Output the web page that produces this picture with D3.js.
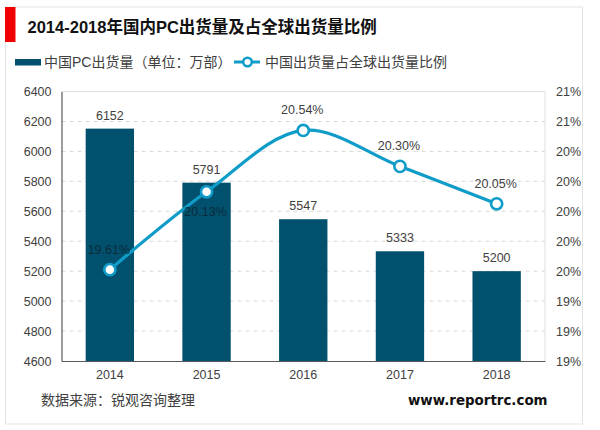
<!DOCTYPE html>
<html>
<head>
<meta charset="utf-8">
<script src="https://cdn.jsdelivr.net/npm/d3@7"></script>
<style>
html, body { margin: 0; padding: 0; background: #fff; }
svg { display: block; }
text { font-family: "Liberation Sans", "Noto Sans CJK SC", sans-serif; fill: #404040; }
</style>
</head>
<body>
<svg id="svg" width="600" height="430"></svg>
<script>
var titleText = "2014-2018年国内PC出货量及占全球出货量比例";
var barName = "中国PC出货量（单位：万部）";
var lineName = "中国出货量占全球出货量比例";
var sourceText = "数据来源：锐观咨询整理";
var siteText = "www.reportrc.com";

var years = ["2014", "2015", "2016", "2017", "2018"];
var shipments = [6152, 5791, 5547, 5333, 5200];
var shares = [19.61, 20.13, 20.54, 20.30, 20.05];
var leftTicks = [4600, 4800, 5000, 5200, 5400, 5600, 5800, 6000, 6200, 6400];
var rightTicks = [19.0, 19.2, 19.4, 19.6, 19.8, 20.0, 20.2, 20.4, 20.6, 20.8];

var barColor = "#00506e";
var lineColor = "#109cc8";
var plotLeft = 61.5, plotRight = 545, plotTop = 91.5, plotBottom = 361;

var svg = d3.select("#svg");

// frame and title
svg.append("rect").attr("x", 5.5).attr("y", 7).attr("width", 577).attr("height", 417)
    .attr("fill", "#fff").attr("stroke", "#e4e4e4").attr("stroke-width", 1);
svg.append("rect").attr("x", 5).attr("y", 7).attr("width", 10.5).attr("height", 35).attr("fill", "#f00000");
svg.append("text").attr("x", 27.5).attr("y", 33).attr("font-size", 16.5).attr("font-weight", "bold")
    .style("fill", "#111").text(titleText);

// legend
var legend = svg.append("g");
legend.append("rect").attr("x", 15).attr("y", 59).attr("width", 26).attr("height", 6.5).attr("fill", barColor);
legend.append("text").attr("x", 44).attr("y", 67).attr("font-size", 14).text(barName);
legend.append("line").attr("x1", 234).attr("x2", 260).attr("y1", 62).attr("y2", 62)
    .attr("stroke", lineColor).attr("stroke-width", 3);
legend.append("circle").attr("cx", 247.5).attr("cy", 62).attr("r", 4.3)
    .attr("fill", "#fff").attr("stroke", lineColor).attr("stroke-width", 2.5);
legend.append("text").attr("x", 265).attr("y", 67).attr("font-size", 14).text(lineName);

// scales
var x = d3.scaleBand().domain(years).range([plotLeft, plotRight]);
var yLeft = d3.scaleLinear().domain([4600, 6400]).range([plotBottom, plotTop]);
var yRight = d3.scaleLinear().domain([19.0, 20.8]).range([plotBottom, plotTop]);

// grid
svg.append("g").selectAll("line").data(leftTicks.slice(1, -1)).join("line")
    .attr("x1", plotLeft).attr("x2", plotRight)
    .attr("y1", d => yLeft(d)).attr("y2", d => yLeft(d))
    .attr("stroke", "#d9d9d9").attr("stroke-dasharray", "4 4");
svg.append("path").attr("d", `M${plotLeft},${plotTop}H${plotRight}V${plotBottom}`)
    .attr("fill", "none").attr("stroke", "#e0e0e0");

// bars
var barWidth = x.bandwidth() * 0.5;
svg.append("g").selectAll("rect").data(shipments).join("rect")
    .attr("x", (d, i) => x(years[i]) + (x.bandwidth() - barWidth) / 2)
    .attr("y", d => yLeft(d))
    .attr("width", barWidth)
    .attr("height", d => plotBottom - yLeft(d))
    .attr("fill", barColor);

// axes
var axisLeft = svg.append("g").attr("transform", `translate(${plotLeft},0)`)
    .call(d3.axisLeft(yLeft).tickValues(leftTicks).tickSize(0).tickPadding(10).tickFormat(d3.format("d")));
axisLeft.select(".domain").attr("stroke", "#595959").attr("stroke-width", 1.2);
var axisRight = svg.append("g").attr("transform", `translate(${plotRight},0)`)
    .call(d3.axisRight(yRight).tickValues(rightTicks).tickSize(0).tickPadding(11).tickFormat(d => d3.format(".0f")(d) + "%"));
axisRight.select(".domain").remove();
var axisBottom = svg.append("g").attr("transform", `translate(0,${plotBottom})`)
    .call(d3.axisBottom(x).tickSize(0).tickPadding(9));
axisBottom.select(".domain").attr("stroke", "#595959").attr("stroke-width", 1.2);
svg.selectAll(".tick text").attr("font-size", 12.5).attr("font-family", "Liberation Sans").style("fill", "#404040");

// line
var linePath = d3.line()
    .x((d, i) => x(years[i]) + x.bandwidth() / 2)
    .y(d => yRight(d))
    .curve(d3.curveCatmullRom.alpha(0.5));
svg.append("path").datum(shares).attr("d", linePath)
    .attr("fill", "none").attr("stroke", lineColor).attr("stroke-width", 3.2);
svg.append("g").selectAll("circle").data(shares).join("circle")
    .attr("cx", (d, i) => x(years[i]) + x.bandwidth() / 2)
    .attr("cy", d => yRight(d))
    .attr("r", 5.6)
    .attr("fill", "#fff").attr("stroke", lineColor).attr("stroke-width", 2.6);

// value labels
svg.append("g").selectAll("text").data(shipments).join("text")
    .attr("x", (d, i) => x(years[i]) + x.bandwidth() / 2)
    .attr("y", d => yLeft(d) - 9)
    .attr("text-anchor", "middle").attr("font-size", 12.5)
    .text(d => d);
svg.append("g").selectAll("text").data(shares).join("text")
    .attr("x", (d, i) => x(years[i]) + x.bandwidth() / 2 - 1)
    .attr("y", d => yRight(d) - 16)
    .attr("dy", (d, i) => i === 1 ? 40 : 0)
    .attr("text-anchor", "middle").attr("font-size", 12.5)
    .style("fill", (d, i) => i < 2 ? "#0c2c3a" : "#404040")
    .text(d => d3.format(".2f")(d) + "%");

// footer
svg.append("text").attr("x", 41).attr("y", 405).attr("font-size", 14).text(sourceText);
svg.append("text").attr("x", 408).attr("y", 405).attr("font-size", 13.4).attr("font-weight", "bold")
    .style("font-family", "DejaVu Sans").style("fill", "#111").text(siteText);
</script>
</body>
</html>
